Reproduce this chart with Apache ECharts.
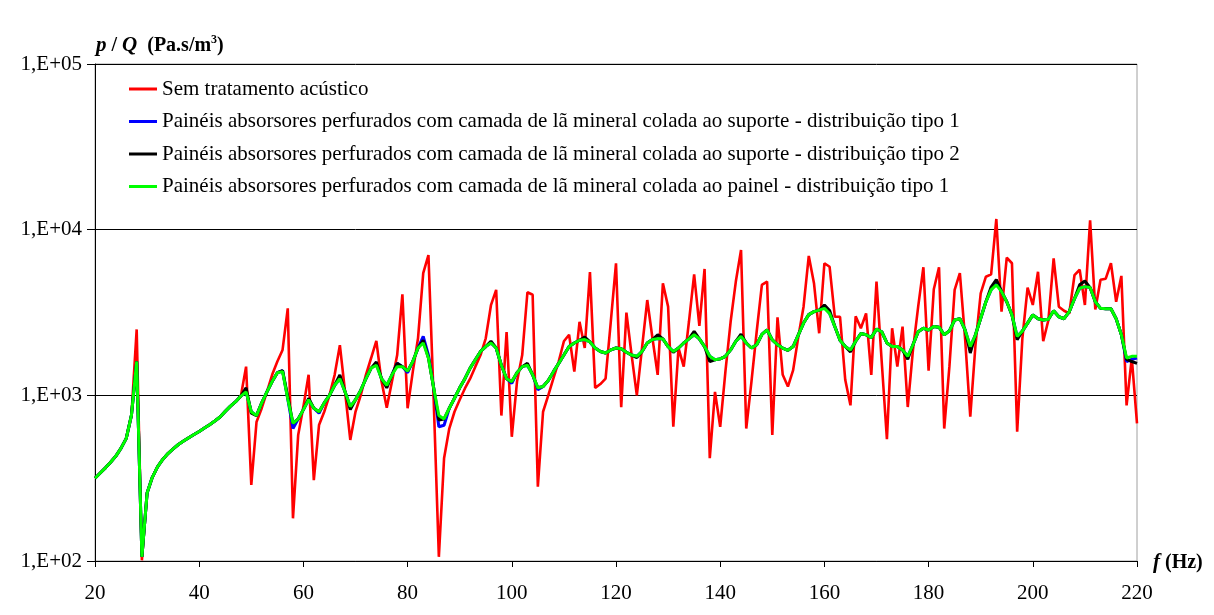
<!DOCTYPE html>
<html>
<head>
<meta charset="utf-8">
<script src="https://cdn.jsdelivr.net/npm/echarts@6/dist/echarts.min.js"></script>
<style>html,body{margin:0;padding:0;background:#fff}#c{width:1214px;height:615px}</style>
</head>
<body>
<div id="c"></div>
<script>
const freqs = [20,21,22,23,24,25,26,27,28,29,30,31,32,33,34,35,36,37,38,39,40,41,42,43,44,45,46,47,48,49,50,51,52,53,54,55,56,57,58,59,60,61,62,63,64,65,66,67,68,69,70,71,72,73,74,75,76,77,78,79,80,81,82,83,84,85,86,87,88,89,90,91,92,93,94,95,96,97,98,99,100,101,102,103,104,105,106,107,108,109,110,111,112,113,114,115,116,117,118,119,120,121,122,123,124,125,126,127,128,129,130,131,132,133,134,135,136,137,138,139,140,141,142,143,144,145,146,147,148,149,150,151,152,153,154,155,156,157,158,159,160,161,162,163,164,165,166,167,168,169,170,171,172,173,174,175,176,177,178,179,180,181,182,183,184,185,186,187,188,189,190,191,192,193,194,195,196,197,198,199,200,201,202,203,204,205,206,207,208,209,210,211,212,213,214,215,216,217,218,219,220];

const seriesNames = [
  'Sem tratamento acústico',
  'Painéis absorsores perfurados com camada de lã mineral colada ao suporte - distribuição tipo 1',
  'Painéis absorsores perfurados com camada de lã mineral colada ao suporte - distribuição tipo 2',
  'Painéis absorsores perfurados com camada de lã mineral colada ao painel - distribuição tipo 1'
];

const semTratamento = [316,340,365,395,430,480,550,760,2500,101,
257,320,370,410,445,475,505,530,555,580,605,635,665,700,740,800,860,915,990,
1490,288,690,836,1050,1330,1600,1880,3350,181,577,855,1330,308,662,796,1000,1330,2010,1050,538,
796,1000,1330,1680,2130,1210,843,1210,1750,4070,836,1390,2210,5460,7030,950,106,417,630,796,
940,1100,1260,1490,1750,2210,3500,4330,755,2410,562,1210,1750,4190,4050,281,796,1000,1270,1600,
2120,2320,1390,2780,1930,5540,1110,1170,1260,2780,6270,848,3160,1750,1000,1940,3760,2210,1330,4750,
3430,646,1930,1490,2780,5370,2630,5790,417,1050,646,1390,2780,4860,7540,630,1210,2420,4640,4860,
577,2960,1330,1130,1420,2260,3430,6940,4750,2370,6270,5970,2980,2980,1240,870,3000,2540,3120,1330,
4860,1600,544,2540,1490,2600,850,1880,3430,5930,1410,4370,5930,630,1500,4330,5460,2210,743,2020,
4120,5200,5370,11600,3200,6780,6270,603,2210,4470,3510,5570,2120,2850,6720,3430,3240,3120,5310,5730,
3510,11400,3300,4990,5060,6270,3670,5260,870,1680,678];

const suporteTipo1 = [316,340,365,395,430,480,550,760,1600,106,
257,320,370,410,445,475,505,530,555,580,605,635,665,700,740,800,860,915,990,
1050,796,755,900,1050,1210,1370,1410,950,630,720,820,940,836,780,900,1000,1150,1260,1050,855,
940,1070,1260,1460,1540,1260,1150,1330,1560,1490,1370,1600,1930,2270,1750,1110,646,660,836,960,
1110,1260,1460,1640,1840,1970,2070,1930,1520,1260,1180,1370,1490,1520,1330,1080,1130,1230,1390,1560,
1750,1970,2070,2150,2170,2100,1930,1840,1800,1880,1930,1910,1820,1750,1720,1840,2070,2170,2200,2190,
1970,1840,1930,2070,2190,2320,2190,1970,1720,1640,1660,1720,1880,2120,2270,2070,1930,2020,2330,2480,
2160,2020,1930,1870,1970,2320,2730,3070,3200,3270,3420,3120,2600,2150,1970,1880,2120,2360,2320,2230,
2510,2420,2070,1970,1970,1880,1720,2020,2420,2540,2480,2600,2580,2320,2450,2850,2900,2480,1970,2320,
2920,3670,4330,4850,4230,3670,3060,2270,2440,2730,3060,2900,2850,2880,3240,2980,2900,3200,3830,4430,
4530,4470,3670,3350,3330,3330,2900,2320,1600,1650,1680];

const suporteTipo2 = [316,340,365,395,430,480,550,760,1600,106,
257,320,370,410,445,475,505,530,555,580,605,635,665,700,740,800,860,915,990,
1110,780,755,900,1050,1210,1370,1410,980,678,720,820,960,836,796,900,1000,1150,1330,1050,820,
940,1070,1260,1460,1590,1260,1110,1330,1560,1490,1400,1600,1930,2150,1680,1110,710,720,836,960,
1110,1260,1460,1640,1840,1970,2120,1930,1520,1260,1210,1370,1490,1560,1330,1110,1130,1230,1390,1560,
1750,1970,2070,2150,2250,2100,1930,1840,1800,1880,1930,1910,1820,1750,1690,1840,2070,2170,2320,2190,
1970,1820,1930,2070,2190,2430,2190,1970,1600,1640,1660,1720,1880,2120,2340,2070,1930,2020,2330,2480,
2160,2020,1930,1870,1970,2320,2730,3070,3200,3270,3510,3250,2600,2150,1970,1830,2120,2360,2320,2230,
2510,2420,2070,1970,1970,1880,1650,2020,2420,2540,2480,2600,2580,2320,2450,2850,2900,2480,1800,2320,
2920,3670,4500,5000,4230,3670,3060,2170,2440,2730,3060,2900,2850,2880,3240,2980,2900,3200,3830,4650,
4900,4470,3670,3350,3330,3330,2900,2320,1650,1600,1560];

const painelTipo1 = [316,340,365,395,430,480,550,760,1600,106,
257,320,370,410,445,475,505,530,555,580,605,635,665,700,740,800,860,915,990,
1050,796,755,900,1050,1210,1370,1390,950,678,720,820,940,836,796,900,1000,1150,1260,1050,855,
940,1070,1260,1460,1520,1260,1150,1330,1490,1490,1400,1600,1930,2070,1680,1110,755,720,836,960,
1110,1260,1460,1640,1840,1970,2070,1930,1520,1260,1210,1370,1490,1520,1330,1110,1130,1230,1390,1560,
1750,1970,2070,2150,2170,2100,1930,1840,1800,1880,1930,1910,1820,1750,1720,1840,2070,2170,2200,2190,
1970,1840,1930,2070,2190,2320,2190,1970,1720,1640,1660,1720,1880,2120,2270,2070,1930,2020,2330,2480,
2160,2020,1930,1870,1970,2320,2730,3070,3200,3270,3350,3120,2600,2150,1970,1880,2120,2360,2320,2230,
2510,2420,2070,1970,1970,1880,1720,2020,2420,2540,2480,2600,2580,2320,2450,2850,2900,2480,1970,2320,
2920,3670,4330,4640,4230,3670,3060,2270,2440,2730,3060,2900,2850,2880,3240,2980,2900,3200,3830,4430,
4530,4470,3670,3350,3330,3330,2900,2320,1680,1720,1720];

const yTickLabels = {100:'1,E+02',1000:'1,E+03',10000:'1,E+04',100000:'1,E+05'};
const xTicks = [20,40,60,80,100,120,140,160,180,200,220];

const FONT = "'Liberation Serif','Times New Roman',serif";
const colors = ['#ff0000','#0000ff','#000000','#00ff00'];
const allData = [semTratamento, suporteTipo1, suporteTipo2, painelTipo1];
const widths = [2.6, 3, 3, 3];

const chart = echarts.init(document.getElementById('c'), null, {renderer:'canvas'});
chart.setOption({
  animation: false,
  backgroundColor: '#fff',
  grid: {left: 95, right: 77, top: 64, bottom: 54, show: true, borderColor: '#a0a0a0', borderWidth: 1, backgroundColor: 'transparent'},
  title: [
    {text: '{i|p}{b| / }{i|Q}{b|  (Pa.s/m}{s|3}{b|)}', left: 91, top: 29,
     textStyle: {rich: {
       i: {fontFamily: FONT, fontSize: 21, fontWeight: 'bold', fontStyle: 'italic', color: '#000'},
       b: {fontFamily: FONT, fontSize: 20, fontWeight: 'bold', color: '#000'},
       s: {fontFamily: FONT, fontSize: 12, fontWeight: 'bold', color: '#000', verticalAlign: 'top', padding: [0,0,11,0]}
     }}},
    {text: '{i|f}{b| (Hz)}', left: 1148, top: 547,
     textStyle: {rich: {
       i: {fontFamily: FONT, fontSize: 21, fontWeight: 'bold', fontStyle: 'italic', color: '#000'},
       b: {fontFamily: FONT, fontSize: 20, fontWeight: 'bold', color: '#000'}
     }}}
  ],
  legend: {
    orient: 'vertical', left: 124, top: 73,
    itemWidth: 28, itemHeight: 3, itemGap: 10.5, icon: 'rect',
    textStyle: {fontFamily: FONT, fontSize: 21, color: '#000', lineHeight: 22, padding: [0,0,0,0]},
    data: seriesNames
  },
  xAxis: {
    type: 'value', min: 20, max: 220, interval: 20,
    axisLine: {show: true, onZero: false, lineStyle: {color: '#000', width: 1}},
    axisTick: {show: true, length: 6, lineStyle: {color: '#000'}},
    axisLabel: {fontFamily: FONT, fontSize: 21, color: '#000', margin: 22,
      formatter: v => xTicks.includes(v) ? String(v) : ''},
    splitLine: {show: false}
  },
  yAxis: {
    type: 'log', logBase: 10, min: 100, max: 100000,
    axisLine: {show: true, lineStyle: {color: '#000', width: 1}},
    axisTick: {show: true, length: 8, lineStyle: {color: '#000'}},
    axisLabel: {fontFamily: FONT, fontSize: 21, color: '#000', margin: 13,
      formatter: v => yTickLabels[Math.round(v)] || ''},
    splitLine: {show: true, lineStyle: {color: '#000', width: 1}},
    minorTick: {show: false}
  },
  series: seriesNames.map((n, k) => ({
    name: n, type: 'line', showSymbol: false, symbol: 'none',
    data: freqs.map((f, i) => [f, allData[k][i]]),
    lineStyle: {color: colors[k], width: widths[k]},
    itemStyle: {color: colors[k]},
    z: 2 + k
  }))
});
</script>
</body>
</html>
